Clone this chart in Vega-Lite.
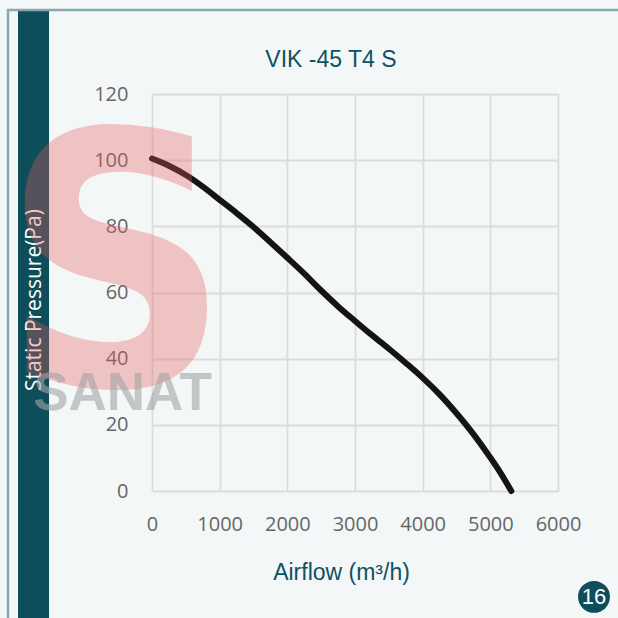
{
  "$schema": "https://vega.github.io/schema/vega-lite/v6.json",
  "width": 406,
  "height": 397,
  "autosize": {"type": "none"},
  "padding": {"left": 152, "top": 94, "right": 60, "bottom": 127},
  "background": "#f4f7f8",
  "config": {"view": {"stroke": null}},
  "layer": [
    {
      "data": {"values": [{}]},
      "mark": {"type": "rect", "color": "#0e4e5b"},
      "encoding": {
        "x": {"datum": -1980},
        "x2": {"datum": -1522},
        "y": {"datum": 145.4},
        "y2": {"datum": -60}
      }
    },
    {
      "data": {"values": [{}]},
      "mark": {"type": "rect", "filled": false, "stroke": "#86a8b1", "strokeWidth": 2.5},
      "encoding": {
        "x": {"datum": -2128},
        "x2": {"datum": 7400},
        "y": {"datum": 145.4},
        "y2": {"datum": -60}
      }
    },
    {
      "data": {"values": [{}]},
      "mark": {"type": "text", "text": "VIK -45 T4 S", "align": "center", "baseline": "alphabetic", "font": "Liberation Sans", "fontSize": 23, "color": "#0e5261"},
      "encoding": {
        "x": {"datum": 2645},
        "y": {"datum": 128.2}
      }
    },
    {
      "data": {
        "values": [
          {"airflow": 0, "pressure": 100.5},
          {"airflow": 250, "pressure": 98.3},
          {"airflow": 500, "pressure": 95.5},
          {"airflow": 750, "pressure": 92},
          {"airflow": 1000, "pressure": 88},
          {"airflow": 1250, "pressure": 84},
          {"airflow": 1500, "pressure": 79.8},
          {"airflow": 1750, "pressure": 75.2},
          {"airflow": 2000, "pressure": 70.5},
          {"airflow": 2250, "pressure": 65.7},
          {"airflow": 2500, "pressure": 60.6},
          {"airflow": 2750, "pressure": 55.8},
          {"airflow": 3000, "pressure": 51.4},
          {"airflow": 3250, "pressure": 47.1},
          {"airflow": 3500, "pressure": 43},
          {"airflow": 3750, "pressure": 38.7},
          {"airflow": 4000, "pressure": 34.2},
          {"airflow": 4250, "pressure": 29.2},
          {"airflow": 4500, "pressure": 23.5},
          {"airflow": 4750, "pressure": 17.2},
          {"airflow": 5000, "pressure": 10.1},
          {"airflow": 5150, "pressure": 5.5},
          {"airflow": 5310, "pressure": 0}
        ]
      },
      "mark": {"type": "line", "color": "#141414", "strokeWidth": 6, "strokeCap": "round", "interpolate": "monotone"},
      "encoding": {
        "x": {
          "field": "airflow",
          "type": "quantitative",
          "scale": {"domain": [0, 6000], "nice": false, "zero": false},
          "axis": {
            "values": [0, 500, 1000, 1500, 2000, 2500, 3000, 3500, 4000, 4500, 5000, 5500, 6000],
            "format": "d",
            "labelExpr": "datum.value % 1000 === 0 ? datum.label : ''",
            "grid": true,
            "gridColor": "#dedbdc",
            "gridWidth": 1.8,
            "domain": false,
            "ticks": false,
            "labelFont": "Open Sans",
            "labelFontSize": 20,
            "labelColor": "#666666",
            "labelPadding": 23,
            "labelFlush": false,
            "labelOverlap": false,
            "title": "Airflow (m³/h)",
            "titleFont": "Liberation Sans",
            "titleFontSize": 23,
            "titleFontWeight": "normal",
            "titleColor": "#0e5261",
            "titleX": 189,
            "titleY": 88,
            "titleBaseline": "alphabetic",
            "titleAlign": "center"
          }
        },
        "y": {
          "field": "pressure",
          "type": "quantitative",
          "scale": {"domain": [0, 120], "nice": false, "zero": false},
          "axis": {
            "values": [0, 10, 20, 30, 40, 50, 60, 70, 80, 90, 100, 110, 120],
            "format": "d",
            "labelExpr": "datum.value % 20 === 0 ? datum.label : ''",
            "grid": true,
            "gridColor": "#dedbdc",
            "gridWidth": 1.8,
            "domain": false,
            "ticks": false,
            "labelFont": "Open Sans",
            "labelFontSize": 20,
            "labelColor": "#666666",
            "labelPadding": 24,
            "labelOverlap": false,
            "title": null
          }
        }
      }
    },
    {
      "data": {"values": [{}]},
      "mark": {"type": "text", "text": "Static Pressure(Pa)", "angle": 270, "align": "center", "baseline": "alphabetic", "font": "Open Sans", "fontSize": 21, "color": "#ffffff"},
      "encoding": {
        "x": {"datum": -1640},
        "y": {"datum": 57.7}
      }
    },
    {
      "data": {"values": [{}]},
      "mark": {"type": "text", "text": "S", "align": "center", "baseline": "alphabetic", "font": "Liberation Sans Narrow, DejaVu Sans Condensed, Liberation Sans", "fontWeight": "bold", "fontSize": 352, "color": "#e65d5d", "opacity": 0.33},
      "encoding": {
        "x": {"datum": -530},
        "y": {"datum": 32}
      }
    },
    {
      "data": {"values": [{}]},
      "mark": {"type": "text", "text": "SANAT", "align": "center", "baseline": "alphabetic", "font": "Liberation Sans", "fontWeight": "bold", "fontSize": 53, "color": "#a5a5a5", "opacity": 0.6},
      "encoding": {
        "x": {"datum": -436},
        "y": {"datum": 24.5}
      }
    },
    {
      "data": {"values": [{}]},
      "mark": {"type": "point", "shape": "circle", "filled": true, "size": 1018, "color": "#0e4e5b", "opacity": 1},
      "encoding": {
        "x": {"datum": 6532},
        "y": {"datum": -32}
      }
    },
    {
      "data": {"values": [{}]},
      "mark": {"type": "text", "text": "16", "align": "center", "baseline": "middle", "font": "Liberation Sans", "fontSize": 22, "color": "#ffffff"},
      "encoding": {
        "x": {"datum": 6532},
        "y": {"datum": -32}
      }
    }
  ]
}
